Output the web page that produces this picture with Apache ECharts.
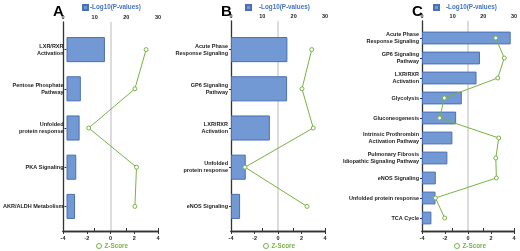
<!DOCTYPE html>
<html><head><meta charset="utf-8">
<script src="https://cdn.jsdelivr.net/npm/echarts@6/dist/echarts.min.js"></script>
<style>html,body{margin:0;padding:0;background:#fff}#c{width:520px;height:251px}</style>
</head><body><div id="c"></div>
<script>
// ---- data ----
const pTicks = [0, 10, 20, 30];
const zTicks = [-4, -2, 0, 2, 4];
const catsA = ['LXR/RXR\nActivation', 'Pentose Phosphate\nPathway', 'Unfolded\nprotein response', 'PKA Signaling', 'AKR/ALDH Metabolism'];
const pA = [12.6, 4.7, 4.3, 3.2, 2.8];
const zA = [2.96, 1.98, -2.06, 2.12, 1.98];
const catsB = ['Acute Phase\nResponse Signaling', 'GP6 Signaling\nPathway', 'LXR/RXR\nActivation', 'Unfolded\nprotein response', 'eNOS Signaling'];
const pB = [18.0, 17.9, 12.4, 4.7, 2.9];
const zB = [2.87, 2.04, 3.0, -2.81, 2.47];
const catsC = ['Acute Phase\nResponse Signaling', 'GP6 Signaling\nPathway', 'LXR/RXR\nActivation', 'Glycolysis', 'Gluconeogenesis', 'Intrinsic Prothrombin\nActivation Pathway', 'Pulmonary Fibrosis\nIdiopathic Signaling Pathway', 'eNOS Signaling', 'Unfolded protein response', 'TCA Cycle'];
const pC = [28.3, 18.5, 17.4, 12.7, 10.9, 9.7, 8.1, 4.4, 4.3, 3.0];
const zC = [2.28, 3.0, 2.45, -2.1, -2.5, 2.53, 2.28, 2.33, -2.86, -2.07];
const letters = ['A', 'B', 'C'];
const pName = '-Log10(P-values)';
const zName = 'Z-Score';

const FONT = '"Liberation Sans", Arial, sans-serif';
const BLUE = '#7399d4', BLUE_B = '#4a6fb5', GREEN = '#77b243', AX = '#333';

const option = {
  animation: false,
  textStyle: { fontFamily: FONT },
  title: [], legend: [], grid: [], xAxis: [], yAxis: [], series: []
};

function panel(cats, pv, zv, L) {
  const gF = option.grid.length, gD = gF + 1;
  option.grid.push({ left: L.left, right: L.right, top: L.fTop, bottom: L.fBot });
  option.grid.push({ left: L.left, right: L.right, top: L.dTop, bottom: L.dBot });
  const lab = { fontSize: 5.5, fontWeight: 'bold', color: '#222', fontFamily: FONT };
  // frame axes
  option.xAxis.push({ type: 'value', gridIndex: gF, position: 'top', min: pTicks[0], max: pTicks[pTicks.length - 1], interval: pTicks[1] - pTicks[0],
    axisLine: { show: true, lineStyle: { color: AX, width: 1.3 } }, axisTick: { show: true, length: 3, lineStyle: { color: AX } },
    axisLabel: Object.assign({ margin: 2 }, lab), splitLine: { show: false } });
  option.xAxis.push({ type: 'value', gridIndex: gF, position: 'bottom', min: zTicks[0], max: zTicks[zTicks.length - 1], interval: zTicks[1] - zTicks[0],
    axisLine: { show: true, onZero: false, lineStyle: { color: AX, width: 1.3 } }, axisTick: { show: true, length: 3, lineStyle: { color: AX } },
    axisLabel: Object.assign({ margin: 4 }, lab), splitLine: { show: false } });
  option.xAxis.push({ type: 'value', gridIndex: gF, position: 'bottom', min: -1, max: 1, interval: 1,
    axisLine: { show: false }, axisTick: { show: false }, axisLabel: { show: false },
    splitLine: { show: true, showMinLine: false, showMaxLine: false, lineStyle: { color: '#d0d0d0', width: 1.5 } } });
  option.yAxis.push({ type: 'value', gridIndex: gF, min: 0, max: 1,
    axisLine: { show: true, onZero: false, lineStyle: { color: AX, width: 1.3 } }, axisTick: { show: false }, axisLabel: { show: false }, splitLine: { show: false } });
  // data axes
  const xP = option.xAxis.length;
  option.xAxis.push({ type: 'value', gridIndex: gD, show: false, min: pTicks[0], max: pTicks[pTicks.length - 1] });
  const xZ = option.xAxis.length;
  option.xAxis.push({ type: 'value', gridIndex: gD, show: false, min: zTicks[0], max: zTicks[zTicks.length - 1] });
  const yC = option.yAxis.length;
  option.yAxis.push({ type: 'category', gridIndex: gD, data: cats, inverse: true,
    axisLine: { show: false }, axisTick: { show: true, alignWithLabel: true, length: 2, lineStyle: { color: AX } },
    axisLabel: Object.assign({ margin: 3, lineHeight: 7, align: 'right' }, lab), splitLine: { show: false } });
  option.series.push({ type: 'bar', name: pName, xAxisIndex: xP, yAxisIndex: yC, data: pv, barWidth: '64%', z: 2,
    itemStyle: { color: BLUE, borderColor: BLUE_B, borderWidth: 1 } });
  option.series.push({ type: 'line', name: zName, xAxisIndex: xZ, yAxisIndex: yC, data: zv, z: 3,
    symbol: 'circle', symbolSize: 4, lineStyle: { color: GREEN, width: 1 },
    itemStyle: { color: '#fff', borderColor: GREEN, borderWidth: 1 } });
  option.title.push({ text: L.letter, left: L.letterLeft, top: -1, textStyle: { fontSize: 15, fontWeight: 'bold', color: '#000', fontFamily: FONT } });
  option.legend.push({ left: L.lgTop, top: 4, itemWidth: 5, itemHeight: 5, padding: 0,
    data: [{ name: pName, icon: 'rect' }], textStyle: { fontSize: 6.3, fontWeight: 'bold', color: '#4472c4', padding: [0, 0, 0, L.lgTopPad] } });
  option.legend.push({ left: L.lgBot, top: 243, itemWidth: 5, itemHeight: 5, padding: 0,
    data: [{ name: zName, icon: 'circle', itemStyle: { color: '#fff', borderColor: GREEN, borderWidth: 1 } }],
    textStyle: { fontSize: 6.3, fontWeight: 'bold', color: GREEN, padding: [0, 0, 0, -2] } });
}

panel(catsA, pA, zA, { left: 63, right: 362, fTop: 22, fBot: 20, dTop: 30, dBot: 25, letter: letters[0], letterLeft: 48, lgTop: 82, lgTopPad: -3, lgBot: 96 });
panel(catsB, pB, zB, { left: 231, right: 195, fTop: 21, fBot: 20, dTop: 30, dBot: 25, letter: letters[1], letterLeft: 216, lgTop: 245, lgTopPad: 3, lgBot: 263 });
panel(catsC, pC, zC, { left: 422, right: 4, fTop: 21, fBot: 20, dTop: 28, dBot: 23, letter: letters[2], letterLeft: 407, lgTop: 433, lgTopPad: 2, lgBot: 454 });

const chart = echarts.init(document.getElementById('c'), null, { renderer: 'canvas' });
chart.setOption(option);
</script></body></html>
